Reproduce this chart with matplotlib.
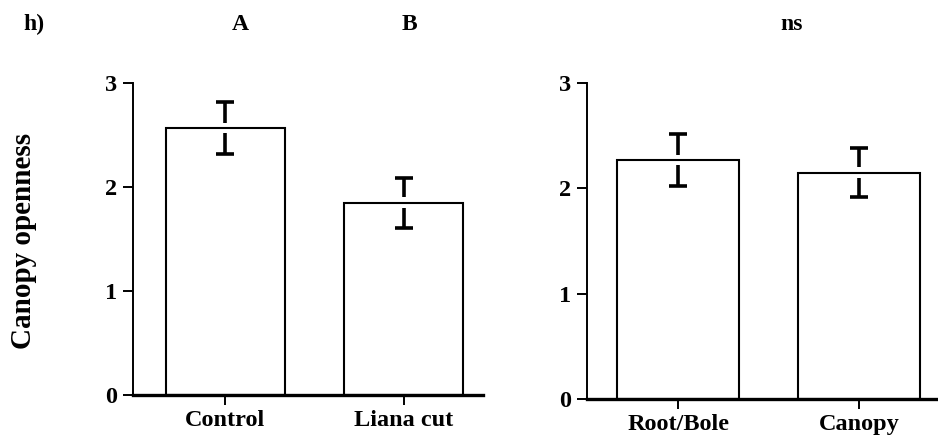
import numpy as np
import matplotlib
matplotlib.use("Agg")
import matplotlib.pyplot as plt

# panel h) canopy openness
cats_left = ["Control", "Liana cut"]
mean_left = [2.57, 1.85]
se_left = [0.25, 0.24]

cats_right = ["Root/Bole", "Canopy"]
mean_right = [2.27, 2.15]
se_right = [0.25, 0.23]

yticks = [0, 1, 2, 3]

plt.rcParams["font.family"] = ["Liberation Serif", "DejaVu Serif"]
plt.rcParams["font.weight"] = "bold"

fig = plt.figure(figsize=(9.38, 4.42), dpi=100)

ax1 = fig.add_axes([0.1418, 0.1063, 0.3731, 0.7059])
ax2 = fig.add_axes([0.6258, 0.0973, 0.3742, 0.7149])


def panel(ax, cats, means, ses, width, xlim):
    x = np.arange(len(cats))
    ax.bar(x, means, width=width, color="white", edgecolor="black", linewidth=1.5, zorder=2)
    gap = 0.05
    m = np.array(means)
    s = np.array(ses)
    # error bars with a small break at the bar top
    ax.vlines(x, m + gap, m + s, color="black", linewidth=2.6, zorder=3)
    ax.vlines(x, m - s, m - gap, color="black", linewidth=2.6, zorder=3)
    ax.plot(x, m + s, linestyle="none", marker="_", markersize=12.5,
            markeredgewidth=2.6, color="black", zorder=3)
    ax.plot(x, m - s, linestyle="none", marker="_", markersize=12.5,
            markeredgewidth=2.6, color="black", zorder=3)
    ax.set_xlim(*xlim)
    ax.set_ylim(0, 3)
    ax.set_yticks(yticks)
    ax.set_xticks(x)
    ax.set_xticklabels(cats)
    for sp in ["top", "right"]:
        ax.spines[sp].set_visible(False)
    ax.spines["left"].set_linewidth(1.4)
    ax.spines["bottom"].set_linewidth(2.4)
    ax.tick_params(axis="y", direction="out", length=7.5, width=1.4, pad=4, labelsize=17.5)
    ax.tick_params(axis="x", direction="out", length=7.5, width=1.4, pad=3, labelsize=17.5)
    for lab in ax.get_xticklabels() + ax.get_yticklabels():
        lab.set_fontweight("bold")


panel(ax1, cats_left, mean_left, se_left, 0.667, (-0.518, 1.443))
panel(ax2, cats_right, mean_right, se_right, 0.674, (-0.503, 1.436))

fig.text(0.025, 0.455, "Canopy openness", rotation=90, ha="center", va="center",
         fontsize=21, fontweight="bold")

fig.text(0.036, 0.932, "h)", ha="center", va="baseline", fontsize=17, fontweight="bold")
fig.text(0.256, 0.932, "A", ha="center", va="baseline", fontsize=17, fontweight="bold")
fig.text(0.437, 0.932, "B", ha="center", va="baseline", fontsize=17, fontweight="bold")
fig.text(0.844, 0.932, "ns", ha="center", va="baseline", fontsize=17, fontweight="bold")

fig.savefig("out.png", dpi=100)
